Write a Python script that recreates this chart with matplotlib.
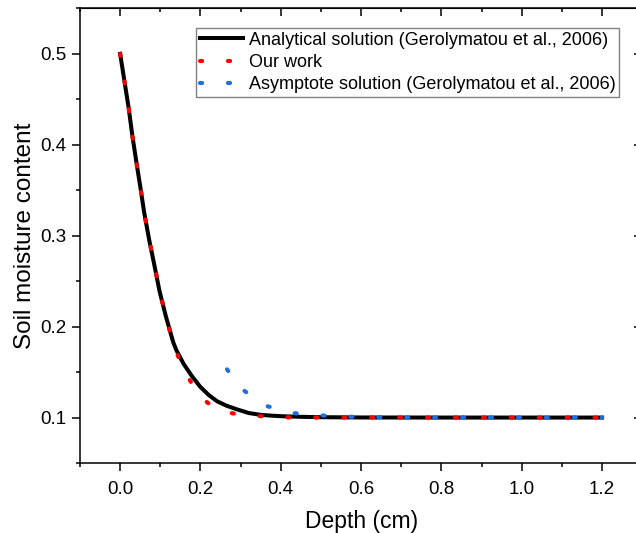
import matplotlib
matplotlib.use("Agg")
import matplotlib.pyplot as plt
from matplotlib.ticker import MultipleLocator

plt.rcParams["font.family"] = ["Liberation Sans", "DejaVu Sans"]

# values
depth_analytical = [0.000, 0.011, 0.021, 0.030, 0.040, 0.050, 0.060, 0.072, 0.085, 0.098,
                    0.114, 0.132, 0.140, 0.158, 0.178, 0.199, 0.220, 0.241, 0.265, 0.291,
                    0.320, 0.349, 0.380, 0.406, 0.450, 0.500, 0.600, 0.800, 1.000, 1.200]
theta_analytical = [0.500, 0.469, 0.441, 0.411, 0.382, 0.354, 0.325, 0.296, 0.268, 0.239,
                    0.211, 0.183, 0.174, 0.159, 0.146, 0.134, 0.125, 0.118, 0.113, 0.109,
                    0.105, 0.103, 0.102, 0.1014, 0.1008, 0.1004, 0.1001, 0.100, 0.100, 0.100]

depth_ours = [0.000, 0.011, 0.021, 0.030, 0.040, 0.050, 0.060, 0.072, 0.085, 0.098,
              0.114, 0.131, 0.154, 0.184, 0.210, 0.237, 0.269, 0.301, 0.367, 0.433,
              0.600, 0.800, 1.000, 1.200]
theta_ours = [0.500, 0.469, 0.441, 0.411, 0.382, 0.354, 0.325, 0.296, 0.268, 0.239,
              0.211, 0.183, 0.156, 0.133, 0.119, 0.110, 0.1055, 0.103, 0.101, 0.100,
              0.100, 0.100, 0.100, 0.100]

depth_asym = [0.266, 0.304, 0.362, 0.428, 0.494, 0.560, 0.630, 0.700, 0.900, 1.200]
theta_asym = [0.153, 0.131, 0.113, 0.105, 0.1025, 0.101, 0.1005, 0.100, 0.100, 0.100]

fig = plt.figure(figsize=(6.36, 5.33), dpi=100)
ax = fig.add_axes([0.1258, 0.1313, 0.884, 0.853])

ax.plot(depth_analytical, theta_analytical, color="black", lw=2.9,
        label="Analytical solution (Gerolymatou et al., 2006)", zorder=2)
ax.plot(depth_ours, theta_ours, color="#ff0000", lw=3.0, dashes=(0.5, 6.2),
        dash_capstyle="round", label="Our work", zorder=3)
ax.plot(depth_asym, theta_asym, color="#1e6ee6", lw=3.0, dashes=(0.5, 6.2),
        dash_capstyle="round", label="Asymptote solution (Gerolymatou et al., 2006)", zorder=4)

ax.set_xlim(-0.1, 1.3)
ax.set_ylim(0.05, 0.55)
ax.xaxis.set_minor_locator(MultipleLocator(0.1))
ax.yaxis.set_minor_locator(MultipleLocator(0.05))
ax.set_xticks([0.0, 0.2, 0.4, 0.6, 0.8, 1.0, 1.2])
ax.set_xticklabels(["0.0", "0.2", "0.4", "0.6", "0.8", "1.0", "1.2"])
ax.set_yticks([0.1, 0.2, 0.3, 0.4, 0.5])
ax.set_yticklabels(["0.1", "0.2", "0.3", "0.4", "0.5"])

ax.tick_params(which="major", direction="out", length=5.8, width=1.1, labelsize=13.5)
ax.tick_params(axis="x", which="major", pad=7.5)
ax.tick_params(axis="y", which="major", pad=4)
ax.tick_params(which="minor", direction="out", length=3.0, width=1.1)
for s in ax.spines.values():
    s.set_linewidth(1.1)

# mirrored ticks pointing inwards on top and right
top = ax.secondary_xaxis("top")
top.xaxis.set_major_locator(MultipleLocator(0.2))
top.xaxis.set_minor_locator(MultipleLocator(0.1))
top.tick_params(which="major", direction="in", length=5.8, width=1.1, labeltop=False)
top.tick_params(which="minor", direction="in", length=3.0, width=1.1)
right = ax.secondary_yaxis("right")
right.yaxis.set_major_locator(MultipleLocator(0.1))
right.yaxis.set_minor_locator(MultipleLocator(0.05))
right.tick_params(which="major", direction="in", length=5.8, width=1.1, labelright=False)
right.tick_params(which="minor", direction="in", length=3.0, width=1.1)

ax.set_xlabel("Depth (cm)", fontsize=16.5, labelpad=8)
ax.set_ylabel("Soil moisture content", fontsize=17.5, labelpad=3)

leg = ax.legend(loc="upper right", bbox_to_anchor=(0.959, 0.957), borderaxespad=0,
                fontsize=13, fancybox=False, edgecolor="#808080", framealpha=1,
                handlelength=2.4, handletextpad=0.3, borderpad=0.2, labelspacing=0.3)
leg.get_frame().set_linewidth(1.0)

fig.savefig("out.png", dpi=100)
